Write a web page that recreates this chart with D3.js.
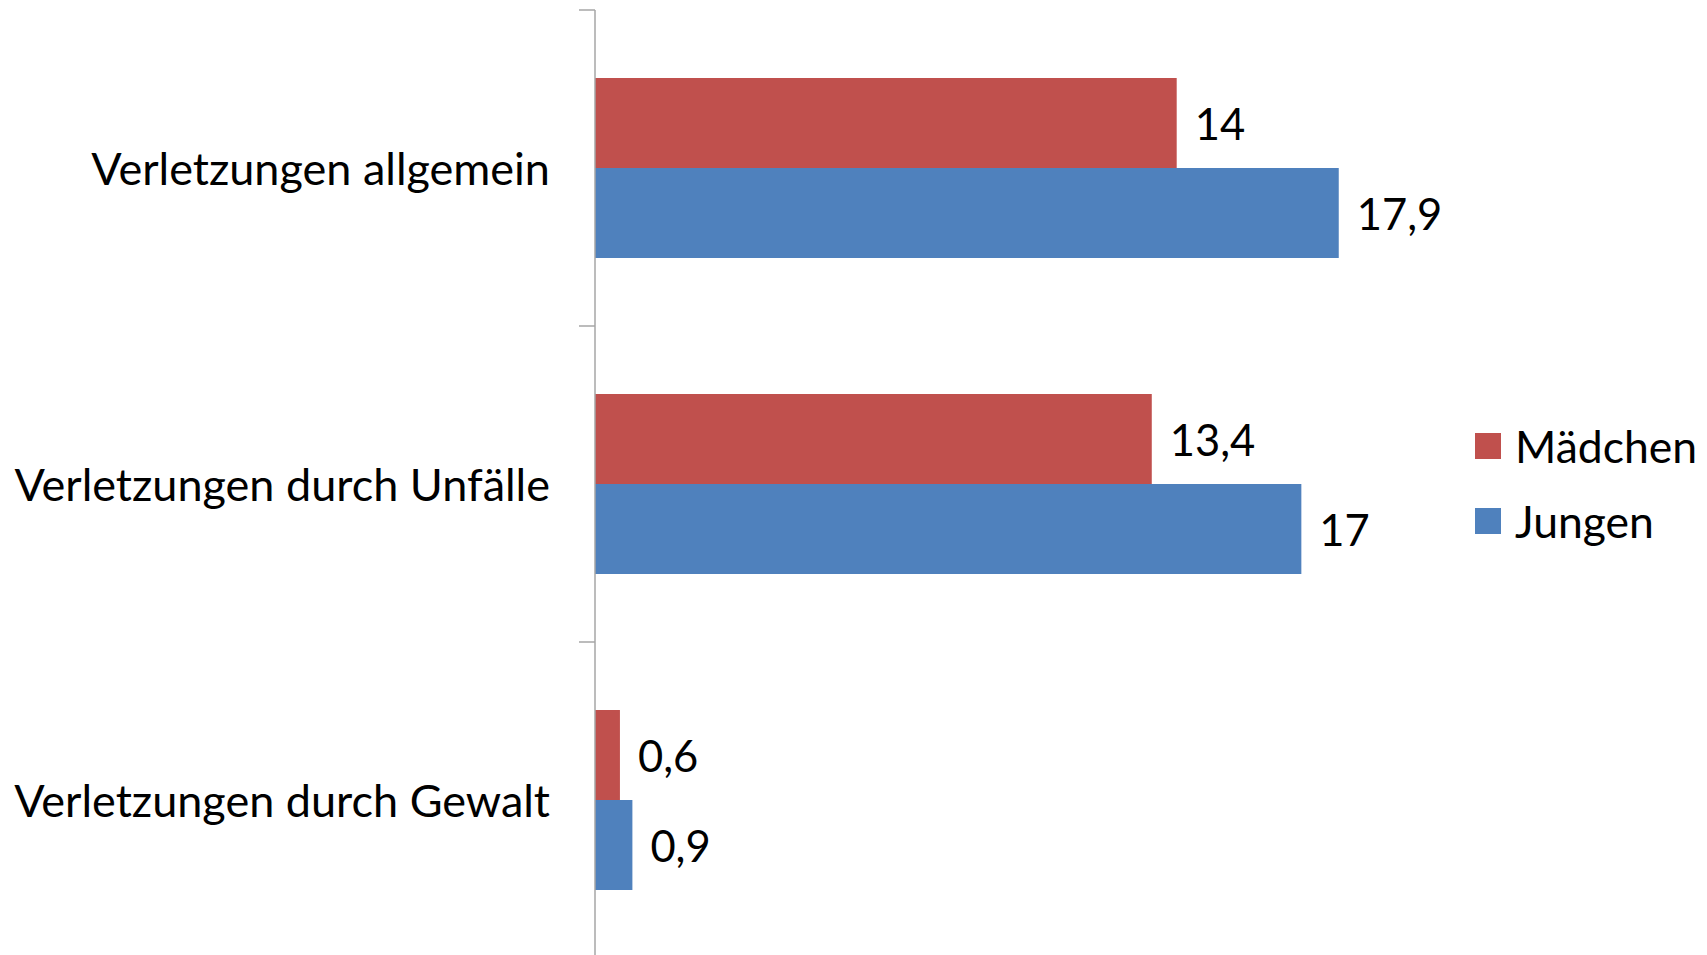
<!DOCTYPE html>
<html>
<head>
<meta charset="utf-8">
<script src="https://cdn.jsdelivr.net/npm/d3@7"></script>
<style>
  html, body { margin: 0; padding: 0; background: #fff; }
  svg { display: block; }
  text { font-family: "Lato", "Open Sans", sans-serif; fill: #000; }
</style>
</head>
<body>
<svg id="chart" width="1707" height="955"></svg>
<script>
// Kategorien und Werte (Anteil in %)
const categories = ["Verletzungen allgemein", "Verletzungen durch Unfälle", "Verletzungen durch Gewalt"];
const seriesNames = ["Mädchen", "Jungen"];
const maedchen = [14, 13.4, 0.6];
const jungen = [17.9, 17, 0.9];
const seriesColors = ["#C0504D", "#4F81BD"];

const seriesValues = [maedchen, jungen];

const svg = d3.select("#chart");
const W = 1707, H = 955;

const axisX = 595;
const plotTop = 10, plotBottom = 958;

const x = d3.scaleLinear().domain([0, 20]).range([axisX, axisX + 831]);
const y = d3.scaleBand().domain(categories).range([plotTop, plotBottom]).padding(0);
const ySub = d3.scaleBand().domain(seriesNames).range([0, y.bandwidth()]).paddingInner(0).paddingOuter(0.7556);

const de = d3.formatLocale({ decimal: ",", thousands: ".", grouping: [3], currency: ["", " €"] });
const fmt = de.format(".1~f");

// Balken
const groups = svg.append("g").selectAll("g")
  .data(categories)
  .join("g")
  .attr("transform", d => `translate(0,${y(d)})`);

groups.each(function (cat, ci) {
  const g = d3.select(this);
  seriesNames.forEach((s, si) => {
    const v = seriesValues[si][ci];
    g.append("rect")
      .attr("x", x(0))
      .attr("y", ySub(s))
      .attr("width", x(v) - x(0))
      .attr("height", ySub.bandwidth())
      .attr("fill", seriesColors[si]);
    g.append("text")
      .attr("x", x(v) + 18)
      .attr("y", ySub(s) + ySub.bandwidth() / 2)
      .attr("dy", "0.4em")
      .attr("font-size", 43.5)
      .text(fmt(v));
  });
});

// Kategorienachse
const axisG = svg.append("g").attr("transform", `translate(${axisX},0)`);
axisG.append("line")
  .attr("x1", 0).attr("x2", 0)
  .attr("y1", plotTop).attr("y2", H)
  .attr("stroke", "#A6A6A6").attr("stroke-width", 1.5);
const tickPositions = categories.map(c => y(c)).concat([y.range()[1]]);
axisG.selectAll("line.tick")
  .data(tickPositions)
  .join("line")
  .attr("class", "tick")
  .attr("x1", -16).attr("x2", 0)
  .attr("y1", d => d).attr("y2", d => d)
  .attr("stroke", "#A6A6A6").attr("stroke-width", 1.5);

axisG.selectAll("text.cat")
  .data(categories)
  .join("text")
  .attr("class", "cat")
  .attr("x", -45)
  .attr("y", d => y(d) + y.bandwidth() / 2)
  .attr("dy", "0.38em")
  .attr("text-anchor", "end")
  .attr("font-size", 45)
  .text(d => d);

// Legende
const legend = svg.append("g").attr("transform", "translate(1475,433)");
seriesNames.forEach((s, i) => {
  const lg = legend.append("g").attr("transform", `translate(0,${i * 75})`);
  lg.append("rect").attr("width", 26).attr("height", 26).attr("fill", seriesColors[i]);
  lg.append("text")
    .attr("x", 40).attr("y", 13).attr("dy", "0.38em")
    .attr("font-size", 44.5)
    .text(s);
});
</script>
</body>
</html>
